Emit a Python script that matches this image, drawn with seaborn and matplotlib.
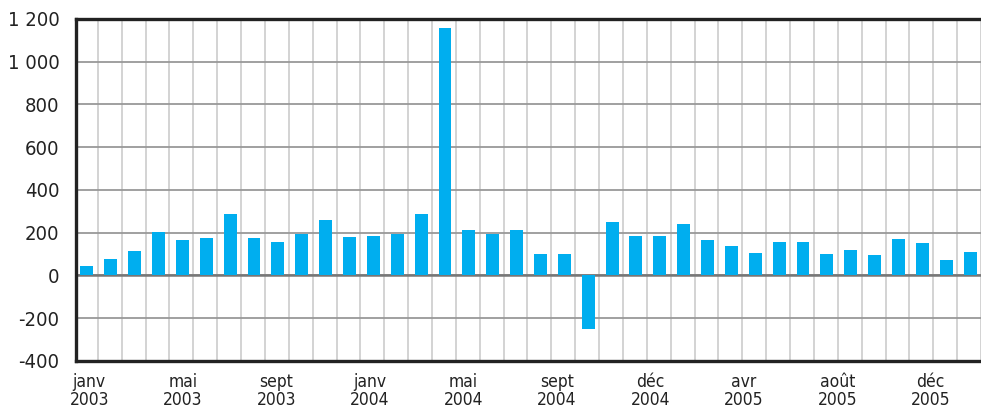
import numpy as np
import pandas as pd
import seaborn as sns
import matplotlib.pyplot as plt
from matplotlib.ticker import FuncFormatter, MultipleLocator

# monthly values, janv 2003 -> fevr 2006
values = [45, 76, 114, 202, 165, 174, 286, 174, 156, 193, 258, 179,
          183, 193, 286, 1157, 211, 193, 211, 100, 100, -250, 249, 183,
          183, 240, 165, 137, 104, 156, 156, 100, 118, 95, 170, 151,
          72, 109]
tick_labels = ["janv\n2003", "mai\n2003", "sept\n2003", "janv\n2004", "mai\n2004",
               "sept\n2004", "déc\n2004", "avr\n2005", "août\n2005", "déc\n2005"]

df = pd.DataFrame({"month": np.arange(len(values)), "value": values})

sns.set_style("white")
plt.rcParams['font.family'] = ['DejaVu Sans']
plt.rcParams['font.stretch'] = 'condensed'

fig = plt.figure(figsize=(9.81, 4.12), dpi=100)
ax = fig.add_axes([0.0775, 0.1238, 0.9225, 0.8302])

sns.barplot(data=df, x="month", y="value", color="#00AEEF", saturation=1,
            width=0.54, linewidth=0, ax=ax, zorder=3)

ax.set_xlim(-0.456, 37.1)
ax.set_ylim(-400, 1200)
ax.yaxis.set_major_locator(MultipleLocator(200))
ax.yaxis.set_major_formatter(FuncFormatter(lambda v, p: f"{int(v):,}".replace(",", " ")))

tick_pos = np.linspace(0.1, 35.35, len(tick_labels))
ax.set_xticks(tick_pos)
ax.set_xticklabels(tick_labels, fontsize=12.5, color="#222222", linespacing=1.0)
ax.set_xticks(np.arange(len(values)) + 0.456, minor=True)

ax.grid(axis="y", which="major", color="#999999", linewidth=1.3, zorder=1)
ax.grid(axis="x", which="minor", color="#cccccc", linewidth=1.2, zorder=0)
ax.axhline(0, color="#777777", linewidth=1.8, zorder=2)

ax.tick_params(axis="both", which="both", length=0)
ax.tick_params(axis="y", labelsize=14.5, pad=12, colors="#222222")
ax.tick_params(axis="x", pad=9)
ax.set_xlabel("")
ax.set_ylabel("")

for side in ["top", "left", "bottom"]:
    ax.spines[side].set_color("#222222")
    ax.spines[side].set_linewidth(2.4)
    ax.spines[side].set_zorder(5)
ax.spines["right"].set_visible(False)

fig.savefig("out.png", dpi=100)
